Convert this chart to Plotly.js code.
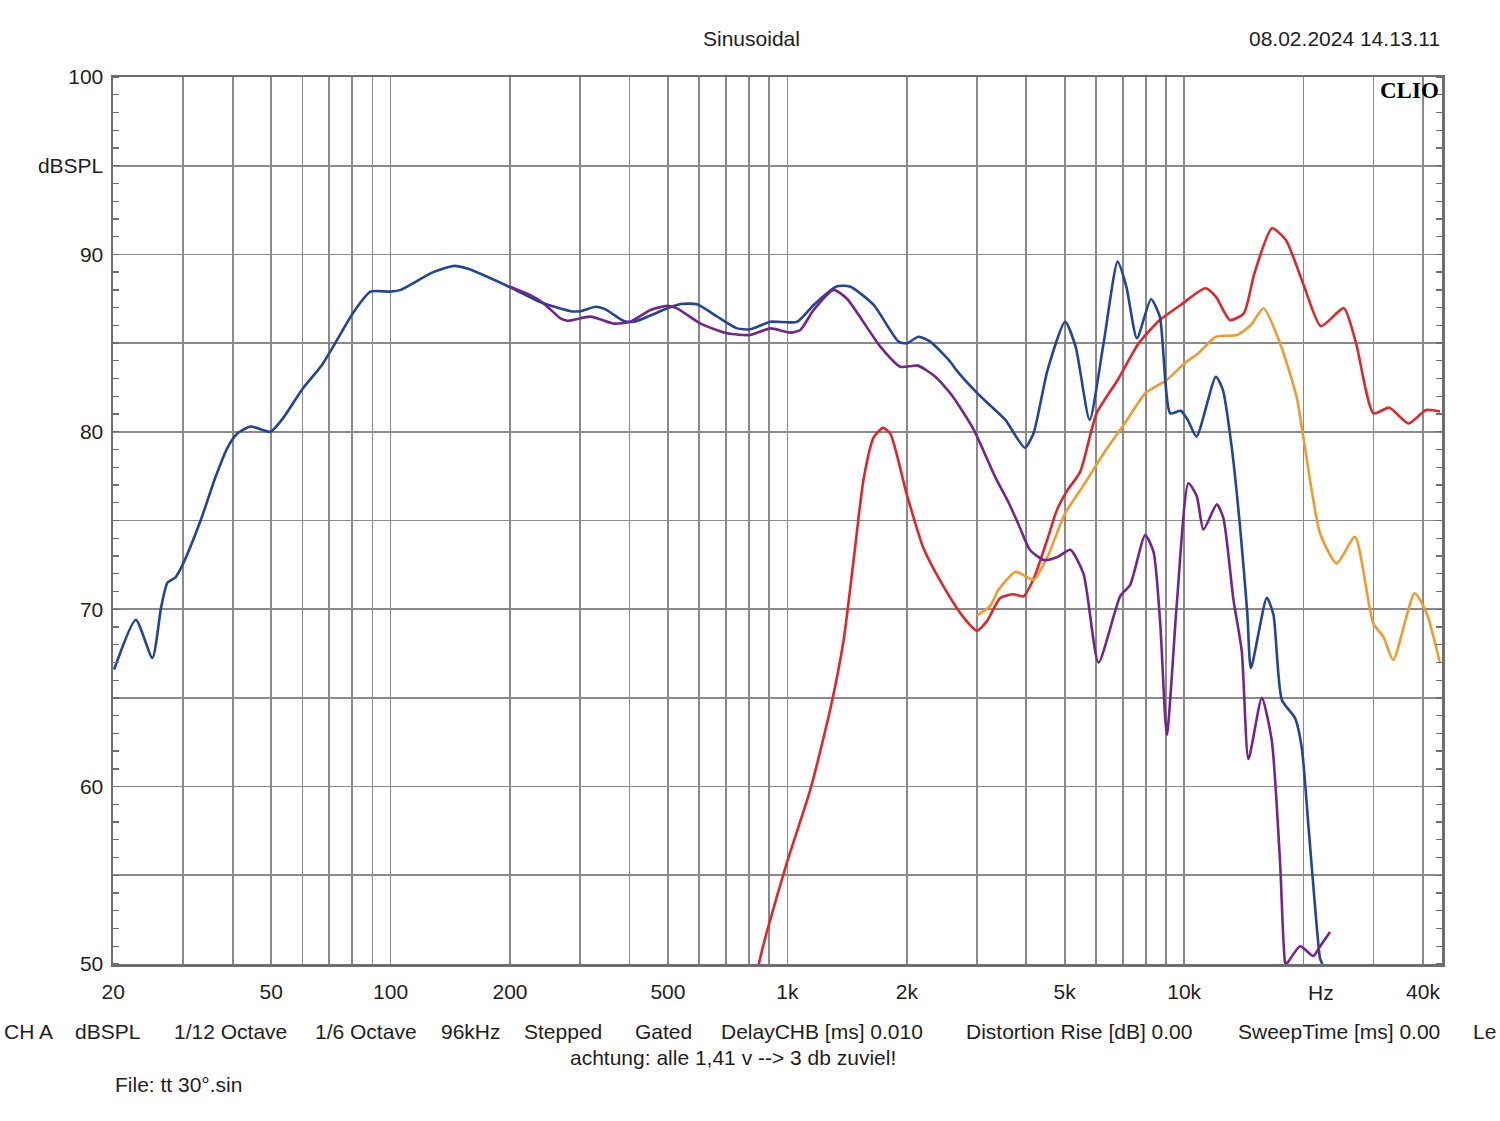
<!DOCTYPE html>
<html>
<head>
<meta charset="utf-8">
<script src="https://cdn.plot.ly/plotly-3.0.1.min.js"></script>
<style>html,body{margin:0;padding:0;background:#fff;}#chart{width:1500px;height:1121px;}</style>
</head>
<body>
<div id="chart"></div>
<script>
// ---- data ----
const blueFreq = [20.1,22.8,25.1,26.4,27.4,28.7,29.9,33.2,36.2,38.8,41.1,44.4,49.8,53.7,59.9,67.3,73.4,80.7,89.0,100,106,128,144,156,200,239,284,301,329,348,387,410,498,538,592,665,747,806,906,1058,1165,1334,1441,1650,1907,2001,2142,2292,2574,2667,3014,3270,3545,3965,4173,4526,5012,5327,5778,6266,6800,7151,7604,8249,8682,9227,9804,10211,10745,12020,12520,13175,13858,14430,14734,16158,16788,17626,19045,19795,20568,21381,22014,22300];
const blueDb   = [66.6,69.4,67.25,70.1,71.5,71.8,72.5,75.0,77.45,79.1,79.9,80.3,80.0,80.8,82.4,83.8,85.2,86.75,87.9,87.9,88.0,89.0,89.35,89.2,88.15,87.3,86.8,86.8,87.05,86.9,86.25,86.2,86.96,87.2,87.19,86.5,85.83,85.78,86.2,86.2,87.15,88.2,88.18,87.15,85.08,84.99,85.36,85.08,83.95,83.48,82.17,81.42,80.67,79.1,79.92,83.48,86.2,84.8,80.67,84.99,89.59,88.18,85.27,87.47,86.5,81.04,81.19,80.67,79.73,83.1,82.36,79.16,74.46,69.77,66.67,70.64,69.7,64.9,63.85,62.18,57.8,53.22,50.3,50.0];

const purpleFreq = [200,225,243,268,279,319,365,402,452,498,527,604,705,806,906,1018,1078,1165,1308,1413,1715,1926,2132,2361,2613,2953,3337,3618,3847,4089,4436,4810,5163,5577,6085,6902,7311,7977,8370,8700,9045,9585,10252,10761,11185,12088,12562,13314,13975,14523,15694,16629,17450,17963,18100,19600,21170,22014,23320];
const purpleDb   = [88.18,87.7,87.24,86.4,86.26,86.49,86.1,86.2,86.87,87.1,86.96,86.1,85.55,85.46,85.83,85.59,85.74,86.87,88.0,87.5,84.8,83.67,83.73,83.1,81.98,80.1,77.47,75.97,74.65,73.34,72.77,72.96,73.35,71.99,66.99,70.74,71.37,74.18,73.24,69.28,62.92,70.32,77.1,76.37,74.49,75.91,75.12,70.53,67.61,61.56,65.0,62.6,55.72,50.1,50.0,51.0,50.45,51.0,51.8];

const redFreq = [820,847,889,998,1143,1283,1386,1469,1556,1650,1742,1817,2001,2204,2476,2780,3004,3184,3440,3715,3937,4173,4510,4779,5064,5470,6016,6800,7681,8682,9804,11310,12020,13037,14139,15035,16643,18051,19990,22126,25256,27122,30011,32890,36785,40728,44157];
const redDb   = [48.5,50.0,51.86,55.74,59.84,64.37,68.25,72.78,77.31,79.68,80.22,79.9,76.45,73.43,71.27,69.54,68.79,69.33,70.63,70.84,70.73,71.7,73.86,75.59,76.66,77.74,81.04,82.92,84.99,86.3,87.15,88.09,87.62,86.3,86.68,88.93,91.47,90.81,88.3,85.95,86.97,84.99,81.04,81.36,80.47,81.23,81.14];

const orangeFreq = [3004,3246,3400,3763,4016,4173,4526,5012,5548,6266,7082,7984,9040,10020,10840,12020,13600,14734,15850,17450,19200,19960,22014,24240,26940,29960,31770,33650,38100,40850,44150];
const orangeDb   = [69.65,70.19,71.08,72.11,71.81,71.65,72.96,75.41,76.9,78.78,80.47,82.17,82.92,83.86,84.42,85.36,85.46,86.02,86.96,84.99,81.98,79.73,74.27,72.58,74.08,69.2,68.45,67.14,70.9,69.77,66.95];

const xTickVals = [20,30,40,50,60,70,80,90,100,200,300,400,500,600,700,800,900,1000,2000,3000,4000,5000,6000,7000,8000,9000,10000,20000,30000,40000];
const xTickText = ['20','','','50','','','','','100','200','','','500','','','','','1k','2k','','','5k','','','','','10k','','','40k'];
const yTickVals = [50,55,60,65,70,75,80,85,90,95,100];
const yTickText = ['50','','60','','70','','80','','90','dBSPL','100'];

const footerItems = ['CH A','dBSPL','1/12 Octave','1/6 Octave','96kHz','Stepped','Gated','DelayCHB [ms] 0.010','Distortion Rise [dB] 0.00','SweepTime [ms] 0.00','Le'];
const footerLeftPx = [2,73,172,313,439,522,633,719,964,1236,1471];

// ---- drawing ----
const FONT = 'Liberation Sans, Arial, sans-serif';
const TXT = '#1e1e1e';
const plotL = 113, plotR = 1442, plotT = 77, plotB = 964;
const px2x = p => (p - plotL) / (plotR - plotL);
const py2y = p => (plotB - p) / (plotB - plotT);

function tr(x, y, color) {
  return {x: x, y: y, type: 'scatter', mode: 'lines',
    line: {color: color, width: 2.6, shape: 'spline', smoothing: 0.6},
    hoverinfo: 'skip', showlegend: false};
}
const traces = [
  tr(redFreq, redDb, '#e3242b'),
  tr(orangeFreq, orangeDb, '#f39a2e'),
  tr(blueFreq, blueDb, '#24449a'),
  tr(purpleFreq, purpleDb, '#74258d')
];

const annotations = [
  {text: 'Sinusoidal', x: px2x(751), y: py2y(39), xanchor: 'center', yanchor: 'middle', font: {size: 21}},
  {text: '08.02.2024 14.13.11', x: px2x(1442), y: py2y(39), xanchor: 'right', yanchor: 'middle', font: {size: 21}},
  {text: '<b>CLIO</b>', x: px2x(1441), y: py2y(90), xanchor: 'right', yanchor: 'middle', font: {size: 23, family: 'Liberation Serif, DejaVu Serif, serif', color: '#000'}},
  {text: 'Hz', x: px2x(1321), y: py2y(992), xanchor: 'center', yanchor: 'middle', font: {size: 21}},
  {text: 'achtung: alle 1,41 v --> 3 db zuviel!', x: px2x(733), y: py2y(1057), xanchor: 'center', yanchor: 'middle', font: {size: 21}},
  {text: 'File: tt 30°.sin', x: px2x(113), y: py2y(1084), xanchor: 'left', yanchor: 'middle', font: {size: 21}}
];
footerItems.forEach((t, i) => {
  annotations.push({text: t, x: px2x(footerLeftPx[i]), y: py2y(1031), xanchor: 'left', yanchor: 'middle', font: {size: 21}});
});
annotations.forEach(a => {
  Object.assign(a, {xref: 'paper', yref: 'paper', showarrow: false});
  a.font = Object.assign({family: FONT, color: TXT}, a.font);
});

const layout = {
  width: 1500, height: 1121,
  margin: {l: plotL, r: 1500 - plotR, t: plotT, b: 1121 - plotB, pad: 0},
  paper_bgcolor: '#ffffff', plot_bgcolor: '#ffffff',
  font: {family: FONT, color: TXT, size: 21},
  showlegend: false,
  xaxis: {
    type: 'log', range: [Math.log10(19.97), Math.log10(44660)],
    tickmode: 'array', tickvals: xTickVals, ticktext: xTickText,
    ticks: '', showgrid: true, gridcolor: '#8a8a8a', gridwidth: 1.7,
    showline: true, linecolor: '#6e6e6e', linewidth: 2.5, mirror: true,
    zeroline: false, ticklabelstandoff: 7,
    tickfont: {size: 21, family: FONT, color: TXT}
  },
  yaxis: {
    range: [50, 100],
    tickmode: 'array', tickvals: yTickVals, ticktext: yTickText,
    ticks: '', showgrid: true, gridcolor: '#8a8a8a', gridwidth: 1.7,
    showline: true, linecolor: '#6e6e6e', linewidth: 2.5, mirror: 'ticks',
    zeroline: false, ticklabelstandoff: 3,
    minor: {dtick: 1, ticks: 'inside', ticklen: 6, tickcolor: '#6e6e6e', tickwidth: 1.3, showgrid: false},
    tickfont: {size: 21, family: FONT, color: TXT}
  },
  annotations: annotations
};

Plotly.newPlot('chart', traces, layout, {staticPlot: true, displayModeBar: false});
</script>
</body>
</html>
